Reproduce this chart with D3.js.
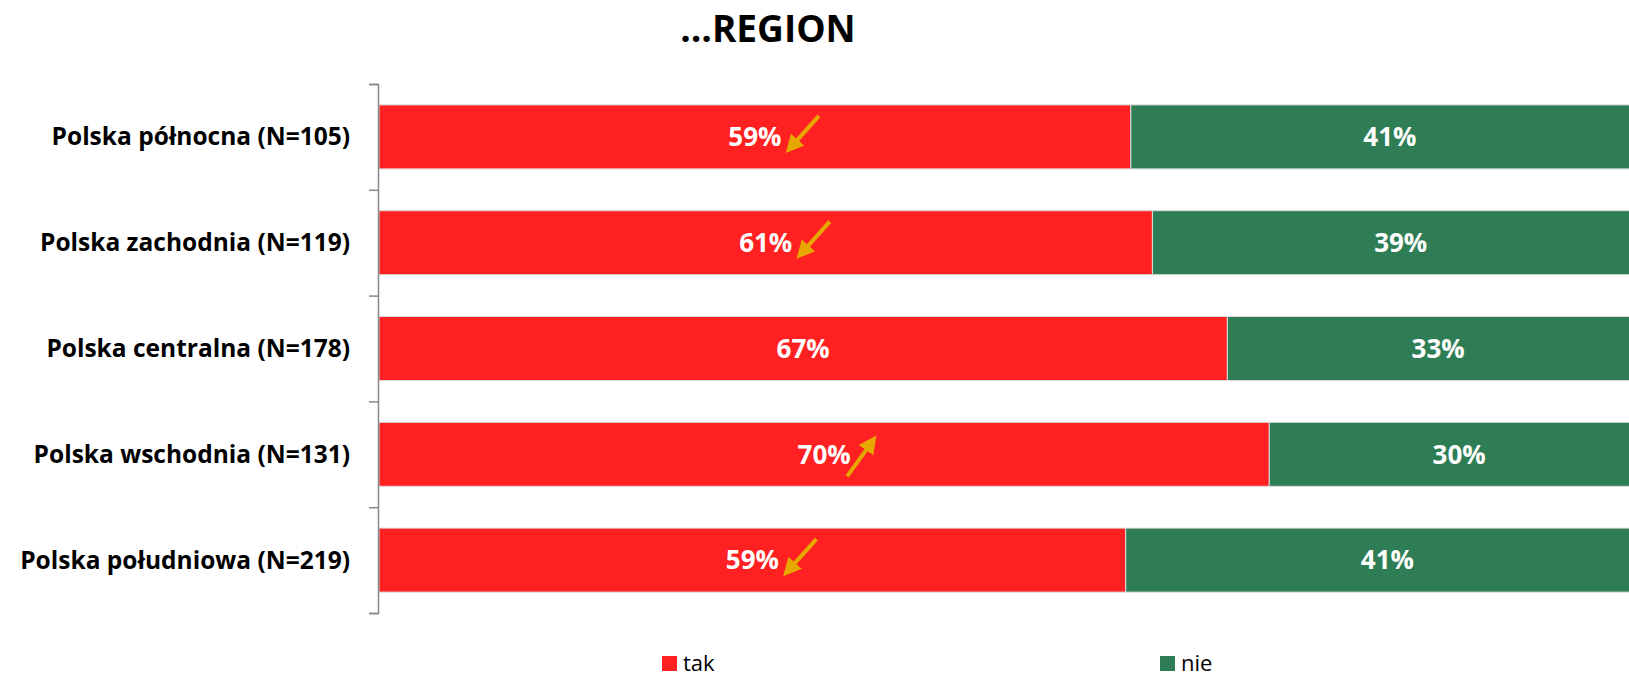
<!DOCTYPE html>
<html>
<head>
<meta charset="utf-8">
<script src="https://cdn.jsdelivr.net/npm/d3@7"></script>
<style>
  body { margin: 0; background: #fff; }
  text { font-family: "Open Sans", Lato, sans-serif; }
</style>
</head>
<body>
<svg width="1629" height="673"></svg>
<script>
var regions = ["Polska północna (N=105)", "Polska zachodnia (N=119)", "Polska centralna (N=178)",
    "Polska wschodnia (N=131)", "Polska południowa (N=219)"];
var tak = [59.2, 60.9, 66.8, 70.1, 58.8];
var nie = [40.8, 39.1, 33.2, 29.9, 41.2];
// trend arrows next to the "tak" label
var trend = ["down", "down", null, "up", "down"];
var seriesNames = ["tak", "nie"];
var colors = {tak: "#ff2121", nie: "#2e7d55"};

var svg = d3.select("svg");
var x0 = 379, x1 = 1649, yTop = 84, yBot = 613;

var rows = regions.map(function (r, i) {
    return {region: r, tak: tak[i], nie: nie[i], trend: trend[i]};
});

var scX = d3.scaleLinear().domain([0, 100]).range([x0, x1]);
var scY = d3.scaleBand().domain(regions).range([yTop, yBot]).paddingInner(0.395).paddingOuter(0.1975);
var scTick = d3.scaleLinear().domain([0, regions.length]).range([yTop, yBot]);

var stack = d3.stack().keys(seriesNames)(rows);

// title
svg.append("text")
    .attr("x", 768).attr("y", 42)
    .attr("text-anchor", "middle")
    .attr("font-family", "Lato, sans-serif")
    .attr("font-size", 37).attr("font-weight", "bold")
    .text("…REGION");

// bars
var layers = svg.selectAll("g.layer")
    .data(stack)
    .enter()
    .append("g")
    .attr("class", "layer")
    .attr("fill", d => colors[d.key]);

layers.selectAll("rect")
    .data(d => d)
    .enter()
    .append("rect")
    .attr("x", d => scX(d[0]))
    .attr("width", d => scX(d[1]) - scX(d[0]))
    .attr("y", d => scY(d.data.region))
    .attr("height", scY.bandwidth())
    .attr("stroke", "#dcdcdc").attr("stroke-width", 1);

layers.selectAll("text")
    .data(d => d)
    .enter()
    .append("text")
    .attr("x", d => (scX(d[0]) + scX(d[1])) / 2)
    .attr("y", d => scY(d.data.region) + scY.bandwidth() / 2)
    .attr("dy", "0.36em")
    .attr("text-anchor", "middle")
    .attr("fill", "#fff")
    .attr("font-size", 26).attr("font-weight", "bold")
    .text(d => Math.round(d[1] - d[0]) + "%");

// arrows
svg.append("defs").append("marker")
    .attr("id", "head")
    .attr("viewBox", "0 0 10 10")
    .attr("refX", 4).attr("refY", 5)
    .attr("markerWidth", 4.5).attr("markerHeight", 4.5)
    .attr("orient", "auto")
    .append("path")
    .attr("d", "M0,0 L10,5 L0,10 Z")
    .attr("fill", "#e6a800");

svg.selectAll("line.trend")
    .data(rows.filter(d => d.trend))
    .enter()
    .append("line")
    .attr("class", "trend")
    .attr("stroke", "#e6a800").attr("stroke-width", 4)
    .attr("marker-end", "url(#head)")
    .each(function (d) {
        var cx = scX(d.tak / 2), cy = scY(d.region) + scY.bandwidth() / 2;
        var line = d3.select(this);
        if (d.trend == "down") {
            line.attr("x1", cx + 64).attr("y1", cy - 21).attr("x2", cx + 38).attr("y2", cy + 8);
        } else {
            line.attr("x1", cx + 23).attr("y1", cy + 22).attr("x2", cx + 46).attr("y2", cy - 10);
        }
    });

// axis
var axis = svg.append("g")
    .attr("transform", "translate(" + (x0 - 1) + ",0)")
    .call(d3.axisLeft(scTick).tickValues(d3.range(regions.length + 1)).tickSize(9).tickFormat(""));
axis.selectAll("path, line").attr("stroke", "#888").attr("stroke-width", 1.5);

svg.selectAll("text.cat")
    .data(regions)
    .enter()
    .append("text")
    .attr("class", "cat")
    .attr("x", 350)
    .attr("y", d => scY(d) + scY.bandwidth() / 2)
    .attr("dy", "0.35em")
    .attr("text-anchor", "end")
    .attr("font-size", 24.5).attr("font-weight", "bold")
    .text(d => d);

// legend
var legX = {tak: 662, nie: 1160};
var leg = svg.selectAll("g.leg")
    .data(seriesNames)
    .enter()
    .append("g")
    .attr("class", "leg")
    .attr("transform", d => "translate(" + legX[d] + ",656)");
leg.append("rect").attr("width", 15).attr("height", 15).attr("fill", d => colors[d]);
leg.append("text").attr("x", 21).attr("y", 15).attr("font-size", 22).text(d => d);
</script>
</body>
</html>
